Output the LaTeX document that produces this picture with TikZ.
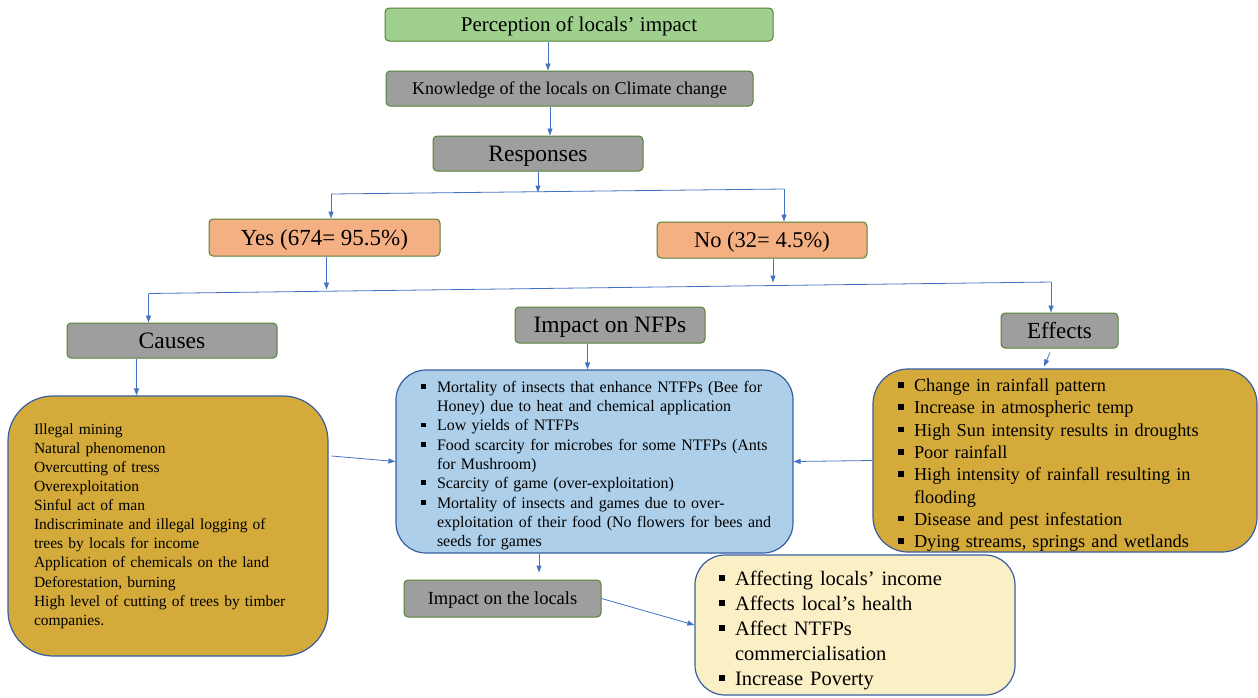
\documentclass[tikz,border=0pt]{standalone}
\usepackage{fontspec}
\setmainfont{Liberation Serif}
\usetikzlibrary{arrows.meta, calc}

\definecolor{headgreen}{RGB}{160,208,142}
\definecolor{edgegreen}{RGB}{84,130,53}
\definecolor{boxgrey}{RGB}{158,158,158}
\definecolor{boxorange}{RGB}{244,176,131}
\definecolor{boxgold}{RGB}{212,170,58}
\definecolor{boxblue}{RGB}{174,207,233}
\definecolor{boxyellow}{RGB}{251,239,198}
\definecolor{edgeblue}{RGB}{55,95,160}
\definecolor{arrowblue}{RGB}{68,114,196}

% square bullet with hanging indent
\newcommand{\sqitem}{\par\hangindent=16pt\hangafter=1\noindent
    \makebox[16pt][l]{\rule[0.22em]{0.3em}{0.3em}}}

\begin{document}
\begin{tikzpicture}[
    x=1pt, y=-1pt,
    >={Triangle[length=7pt, width=5pt]},
    headbox/.style={rectangle, rounded corners=4pt, draw=edgegreen, line width=1pt,
        inner sep=0pt, text depth=0pt, text=black},
    greybox/.style={headbox, fill=boxgrey},
    answerbox/.style={headbox, fill=boxorange},
    listbox/.style={rectangle, draw=edgeblue, line width=1.2pt, align=left,
        inner ysep=0pt, text=black},
    link/.style={draw=arrowblue, line width=0.8pt},
    arr/.style={link, ->}
]
    \useasboundingbox (0,0) rectangle (1258,697);

    % Nodes ------------------------------------------------------

    \node[headbox, fill=headgreen, minimum width=388pt, minimum height=33pt,
        font=\fontsize{21}{25}\selectfont] (perc) at (579,24.5) {Perception of locals' impact};
    \node[greybox, minimum width=367pt, minimum height=35pt,
        font=\fontsize{18}{22}\selectfont] (know) at (569.5,88.5) {Knowledge of the locals on Climate change};
    \node[greybox, minimum width=210pt, minimum height=35pt,
        font=\fontsize{23.5}{28}\selectfont] (resp) at (538,153.5) {Responses};

    \node[answerbox, minimum width=231pt, minimum height=37pt,
        font=\fontsize{23}{28}\selectfont] (yes) at (324.5,237.5) {Yes (674= 95.5\%)};
    \node[answerbox, minimum width=210pt, minimum height=36pt,
        font=\fontsize{22.5}{27}\selectfont] (no) at (762,240) {No (32= 4.5\%)};

    \node[greybox, minimum width=210pt, minimum height=35pt,
        font=\fontsize{23.5}{28}\selectfont] (causes) at (172,340.5) {Causes};
    \node[greybox, minimum width=190pt, minimum height=36pt,
        font=\fontsize{23.5}{28}\selectfont] (impnfp) at (610,325) {Impact on NFPs};
    \node[greybox, minimum width=117pt, minimum height=35pt,
        font=\fontsize{23}{28}\selectfont] (effects) at (1059.5,330.5) {Effects};
    \node[greybox, minimum width=197pt, minimum height=37pt,
        font=\fontsize{18.5}{22}\selectfont] (implocal) at (502.5,598.5) {Impact on the locals};

    % lists
    \node[listbox, fill=boxgold, rounded corners=45pt, inner xsep=26pt, text width=268pt,
        minimum height=260pt, font=\fontsize{15.5}{19.1}\selectfont] (causelist) at (168,526) {
        Illegal mining\\
        Natural phenomenon\\
        Overcutting of tress\\
        Overexploitation\\
        Sinful act of man\\
        Indiscriminate and illegal logging of\\
        trees by locals for income\\
        Application of chemicals on the land\\
        Deforestation, burning\\
        High level of cutting of trees by timber\\
        companies.};

    \node[listbox, fill=boxblue, rounded corners=30pt, inner xsep=25pt, text width=347pt,
        minimum height=183pt, font=\fontsize{16}{19.3}\selectfont] (nfplist) at (594.5,461.5) {
        \sqitem \mbox{Mortality of insects that enhance NTFPs (Bee for}\newline
            \mbox{Honey) due to heat and chemical application}
        \sqitem Low yields of NTFPs
        \sqitem \mbox{Food scarcity for microbes for some NTFPs (Ants}\newline
            \mbox{for Mushroom)}
        \sqitem Scarcity of game (over-exploitation)
        \sqitem \mbox{Mortality of insects and games due to over-}\newline
            \mbox{exploitation of their food (No flowers for bees and}\newline
            \mbox{seeds for games}\par};

    \node[listbox, fill=boxgold, rounded corners=35pt, inner xsep=25pt, text width=334pt,
        minimum height=183pt, font=\fontsize{18.3}{22.3}\selectfont] (efflist) at (1065,460.5) {
        \sqitem Change in rainfall pattern
        \sqitem Increase in atmospheric temp
        \sqitem High Sun intensity results in droughts
        \sqitem \mbox{Poor rainfall}
        \sqitem \mbox{High intensity of rainfall resulting in}\newline
            \mbox{flooding}
        \sqitem Disease and pest infestation
        \sqitem Dying streams, springs and wetlands\par};

    \node[listbox, fill=boxyellow, rounded corners=30pt, inner xsep=24pt, text width=272pt,
        minimum height=140pt, font=\fontsize{20.5}{25}\selectfont] (locallist) at (855,625) {
        \sqitem Affecting locals' income
        \sqitem Affects local's health
        \sqitem \mbox{Affect NTFPs}\newline
            \mbox{commercialisation}
        \sqitem Increase Poverty\par};

    % junctions
    \coordinate (ry) at (331,194);
    \coordinate (rn) at (784,189);
    \coordinate (lc) at (148.5,293.5);
    \coordinate (le) at (1051,282);

    % Arrows ---------------------------------------------------

    \draw[arr] ([xshift=-31pt]perc.south) -- ([xshift=-21.5pt]know.north);
    \draw[arr] ([xshift=-19.5pt]know.south) -- ([xshift=12pt]resp.north);
    \draw[arr] (resp.south) -- ++(0,21);
    \draw[link] (ry) -- (rn);
    \draw[arr] (ry) -- ([xshift=6.5pt]yes.north);
    \draw[arr] (rn) -- ([xshift=22pt]no.north);

    \draw[arr] ([xshift=2pt]yes.south) -- ++(0,33);
    \draw[arr] ([xshift=11pt]no.south) -- ++(0,24);
    \draw[link] (lc) -- (le);
    \draw[arr] (lc) -- ([xshift=-23.5pt]causes.north);
    \draw[arr] (le) -- ([xshift=-8.5pt]effects.north);

    \draw[arr] ([xshift=-35.5pt]causes.south) -- ([xshift=-31.5pt]causelist.north);
    \draw[arr] ([xshift=-22.5pt]impnfp.south) -- ([xshift=-7pt]nfplist.north);
    \draw[arr] ([xshift=-9.5pt,yshift=-4pt]effects.south) -- ([xshift=-21pt,yshift=2pt]efflist.north);

    \draw[arr] ([xshift=3pt,yshift=70pt]causelist.east) -- (nfplist.west);
    \draw[arr] (efflist.west) -- (nfplist.east);
    \draw[arr] ([xshift=-55.5pt]nfplist.south) -- ++(0,19);
    \draw[arr] (implocal.east) -- (locallist.west);

\end{tikzpicture}
\end{document}
